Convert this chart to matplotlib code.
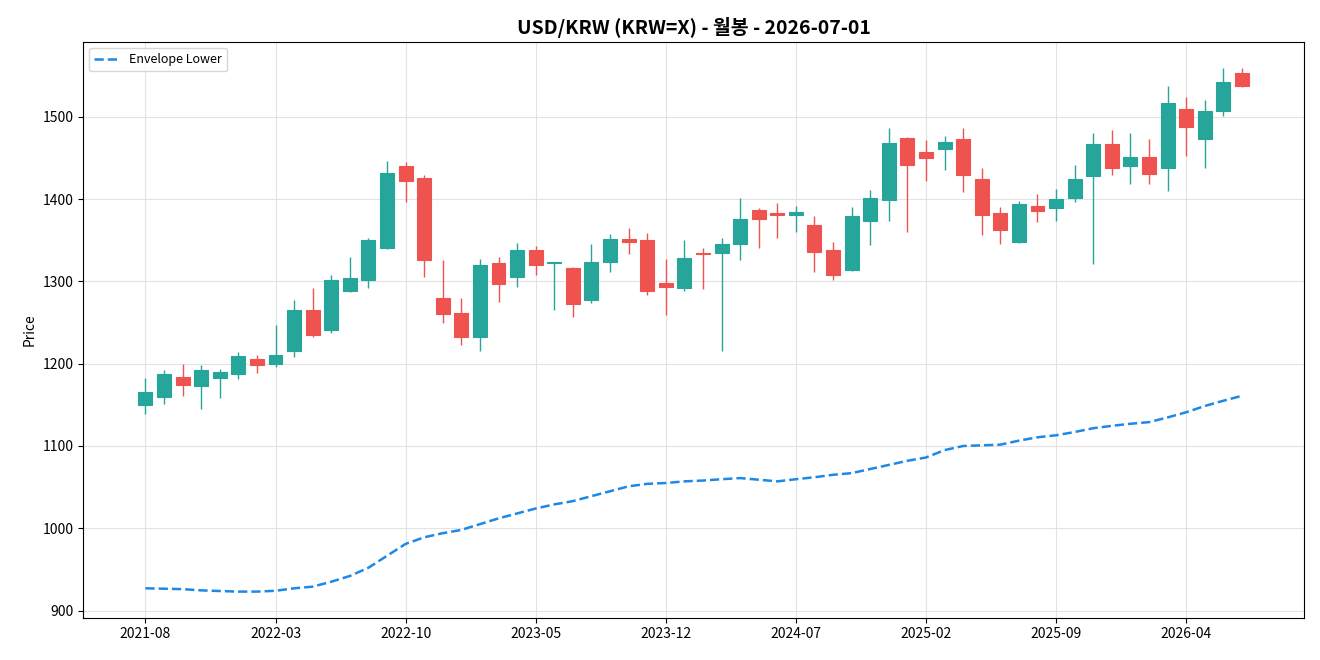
import matplotlib
matplotlib.use('Agg')
import matplotlib.pyplot as plt
import numpy as np

plt.rcParams['font.family'] = ['Noto Sans CJK KR', 'DejaVu Sans']

# monthly candles 2021-08 .. 2026-07
months = ['2021-08', '2021-09', '2021-10', '2021-11', '2021-12', '2022-01', '2022-02', '2022-03',
          '2022-04', '2022-05', '2022-06', '2022-07', '2022-08', '2022-09', '2022-10', '2022-11',
          '2022-12', '2023-01', '2023-02', '2023-03', '2023-04', '2023-05', '2023-06', '2023-07',
          '2023-08', '2023-09', '2023-10', '2023-11', '2023-12', '2024-01', '2024-02', '2024-03',
          '2024-04', '2024-05', '2024-06', '2024-07', '2024-08', '2024-09', '2024-10', '2024-11',
          '2024-12', '2025-01', '2025-02', '2025-03', '2025-04', '2025-05', '2025-06', '2025-07',
          '2025-08', '2025-09', '2025-10', '2025-11', '2025-12', '2026-01', '2026-02', '2026-03',
          '2026-04', '2026-05', '2026-06', '2026-07']

opens = [1150, 1159, 1184, 1173, 1183, 1188, 1206, 1200, 1215, 1265,
         1241, 1288, 1302, 1341, 1440, 1426, 1280, 1262, 1232, 1322,
         1306, 1338, 1322, 1316, 1278, 1324, 1352, 1351, 1298, 1292,
         1335, 1335, 1345, 1387, 1383, 1381, 1369, 1338, 1314, 1373,
         1399, 1474, 1457, 1461, 1473, 1424, 1383, 1348, 1392, 1389,
         1402, 1428, 1467, 1440, 1451, 1438, 1510, 1473, 1507, 1554]
highs = [1183, 1192, 1200, 1199, 1194, 1214, 1211, 1247, 1277, 1292,
         1308, 1330, 1353, 1447, 1445, 1430, 1326, 1280, 1327, 1330,
         1347, 1343, 1324, 1317, 1345, 1358, 1365, 1359, 1327, 1350,
         1341, 1353, 1401, 1389, 1395, 1392, 1380, 1348, 1390, 1411,
         1487, 1476, 1472, 1477, 1487, 1438, 1390, 1398, 1406, 1413,
         1442, 1480, 1484, 1480, 1473, 1537, 1524, 1520, 1559, 1559]
lows = [1139, 1151, 1161, 1145, 1158, 1181, 1189, 1196, 1208, 1232,
        1237, 1287, 1292, 1340, 1396, 1306, 1249, 1223, 1215, 1275,
        1293, 1308, 1265, 1257, 1274, 1311, 1333, 1283, 1259, 1289,
        1291, 1216, 1326, 1341, 1353, 1360, 1312, 1302, 1313, 1344,
        1373, 1360, 1422, 1435, 1409, 1357, 1346, 1347, 1372, 1373,
        1397, 1321, 1429, 1419, 1418, 1410, 1453, 1438, 1501, 1536]
closes = [1166, 1188, 1174, 1192, 1190, 1209, 1198, 1211, 1265, 1235,
          1302, 1304, 1351, 1432, 1422, 1326, 1261, 1232, 1320, 1297,
          1338, 1320, 1324, 1272, 1324, 1352, 1348, 1288, 1293, 1328,
          1333, 1346, 1376, 1376, 1381, 1384, 1336, 1308, 1379, 1401,
          1468, 1441, 1450, 1470, 1430, 1381, 1363, 1394, 1386, 1400,
          1425, 1467, 1438, 1451, 1431, 1517, 1488, 1507, 1543, 1537]

env_lower = [927, 926.5, 926, 924.5, 923.7, 923, 923, 924, 927, 929,
             935, 942, 952, 966.5, 981, 989, 994, 998, 1005, 1012,
             1018, 1024, 1029, 1033, 1039, 1045, 1051, 1054, 1055, 1057,
             1058, 1059.6, 1061, 1059, 1057, 1059.6, 1062, 1065, 1067, 1072,
             1077, 1082, 1086, 1095, 1100, 1100.8, 1101.6, 1106.5, 1110.6, 1113,
             1117, 1121.6, 1124.5, 1127, 1129, 1134.7, 1141, 1148.6, 1155, 1161]

up_color = '#26a69a'
down_color = '#ef5350'

x = np.arange(len(months))
o = np.array(opens)
h = np.array(highs)
l = np.array(lows)
c = np.array(closes)
colors = [up_color if cc >= oo else down_color for oo, cc in zip(o, c)]

fig, ax = plt.subplots(figsize=(13.2, 6.6), dpi=100)

ax.vlines(x, l, h, colors=colors, linewidth=1, zorder=2)
ax.bar(x, np.abs(c - o), bottom=np.minimum(o, c), width=0.75, color=colors,
       edgecolor=colors, linewidth=0.8, zorder=3)

ax.plot(x, env_lower, '--', color='#1e88e5', linewidth=1.8, label='Envelope Lower', zorder=4)

ax.set_xlim(-3.35, 62.35)
ax.set_xticks(x[::7])
ax.set_xticklabels(months[::7])
ax.set_ylabel('Price')
ax.set_title('USD/KRW (KRW=X) - 월봉 - 2026-07-01', fontsize=14, fontweight='bold')
ax.grid(True, color='#dddddd', linewidth=0.8, alpha=0.8)
ax.set_axisbelow(True)
ax.legend(loc='upper left', fontsize=9)

plt.subplots_adjust(left=0.063, right=0.988, top=0.936, bottom=0.064)
plt.savefig('out.png', dpi=100)
